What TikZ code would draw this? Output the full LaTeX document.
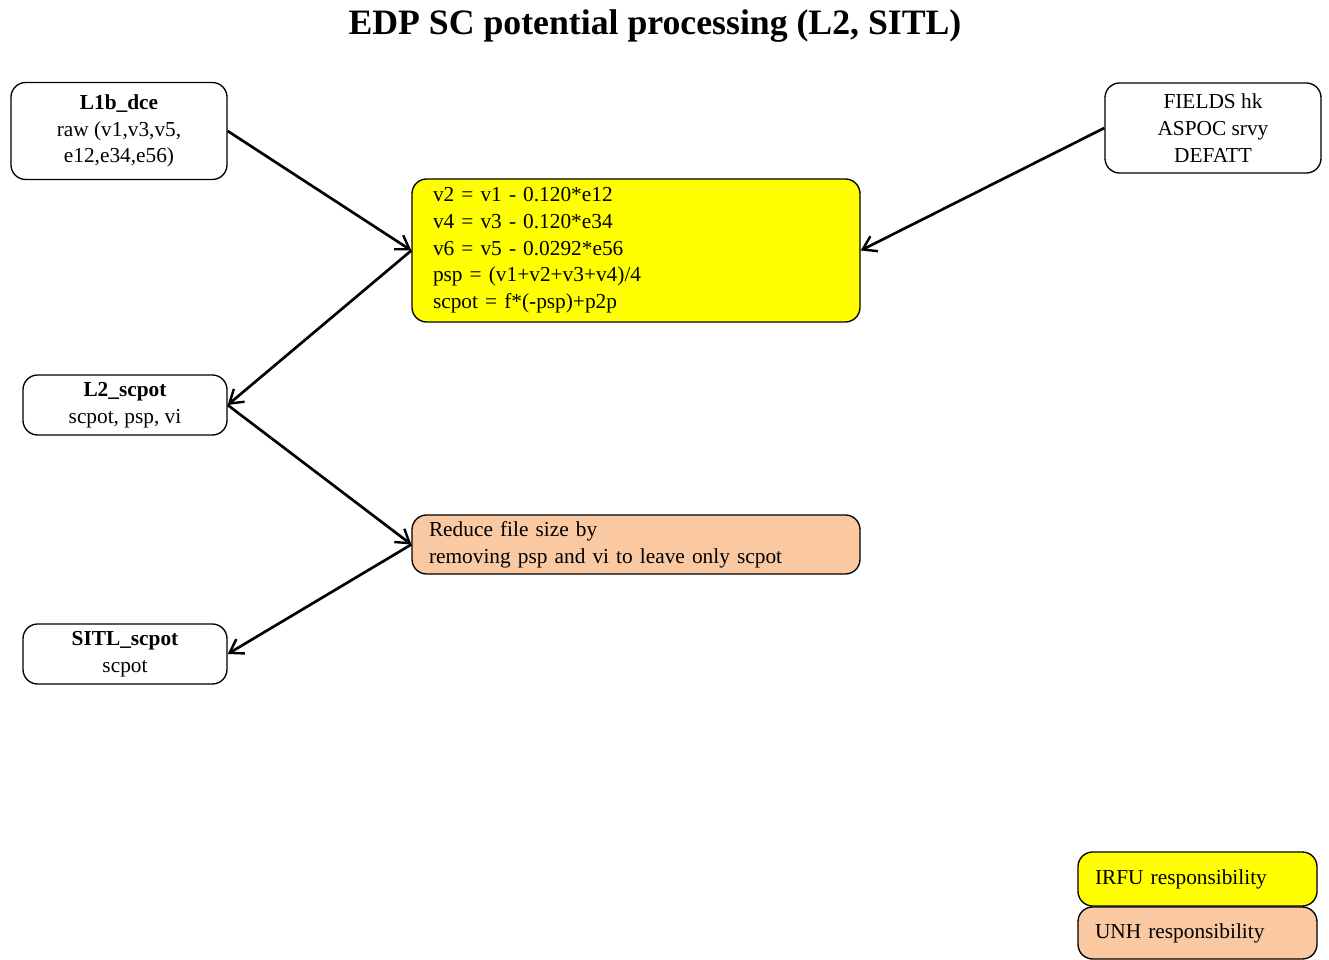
\documentclass[tikz,border=0pt]{standalone}
\usepackage{fontspec}
\setmainfont{Liberation Serif}
\usepackage{xcolor}
\usepackage{tikz}
\usetikzlibrary{arrows.meta, positioning}
\definecolor{cyellow}{RGB}{255,255,0}
\definecolor{cpeach}{RGB}{250,201,162}

\begin{document}
\begin{tikzpicture}[
    x=0.75pt, y=-0.75pt,
    >={Straight Barb[length=3.4mm, width=4.4mm, line width=1.8pt]},
    databox/.style={draw, rounded corners=11pt, line width=1pt, align=center,
        font=\fontsize{16}{20}\selectfont, inner sep=0pt},
    procbox/.style={draw, rounded corners=11pt, line width=1pt, align=left,
        font=\fontsize{16}{20}\selectfont, inner ysep=0pt},
    flow/.style={->, line width=2pt},
]
    \useasboundingbox (0,0) rectangle (1329,960);

    % Title
    \node[font=\fontsize{26.8}{32}\selectfont\bfseries] (title) at (655,26)
        {EDP SC potential processing (L2, SITL)};

    % Input data
    \node[databox, minimum width=162pt, minimum height=72.75pt] (l1b) at (119,131)
        {\textbf{L1b\_dce}\\raw (v1,v3,v5,\\e12,e34,e56)};
    \node[databox, minimum width=162pt, minimum height=67.5pt] (aux) at (1213,128)
        {FIELDS hk\\ASPOC srvy\\DEFATT};

    % Processing (IRFU)
    \node[procbox, fill=cyellow, minimum width=336pt, minimum height=107.25pt,
        text width=304.5pt, inner xsep=15.75pt] (calc) at (636,250.5)
        {v2 = v1 - 0.120*e12\\
         v4 = v3 - 0.120*e34\\
         v6 = v5 - 0.0292*e56\\
         psp = (v1+v2+v3+v4)/4\\
         scpot = f*(-psp)+p2p};

    % Output data
    \node[databox, minimum width=153pt, minimum height=45pt] (l2) at (125,405)
        {\textbf{L2\_scpot}\\scpot, psp, vi};
    \node[databox, minimum width=153pt, minimum height=45pt] (sitl) at (125,654)
        {\textbf{SITL\_scpot}\\scpot};

    % Processing (UNH)
    \node[procbox, fill=cpeach, minimum width=336pt, minimum height=44.25pt,
        text width=310.5pt, inner xsep=12.75pt] (reduce) at (636,544.5)
        {Reduce file size by\\removing psp and vi to leave only scpot};

    % Legend
    \node[procbox, fill=cyellow, minimum width=179.25pt, minimum height=40.5pt,
        text width=153.75pt, inner xsep=12.75pt] (irfu) at (1197.5,879)
        {IRFU responsibility};
    \node[procbox, fill=cpeach, minimum width=179.25pt, minimum height=39pt,
        text width=153.75pt, inner xsep=12.75pt] (unh) at (1197.5,933)
        {UNH responsibility};

    % Arrows
    \draw[flow] (l1b.east) -- (calc.west);
    \draw[flow] (aux.west) -- (calc.east);
    \draw[flow] (calc.west) -- (l2.east);
    \draw[flow] (l2.east) -- (reduce.west);
    \draw[flow] (reduce.west) -- (sitl.east);
\end{tikzpicture}
\end{document}
